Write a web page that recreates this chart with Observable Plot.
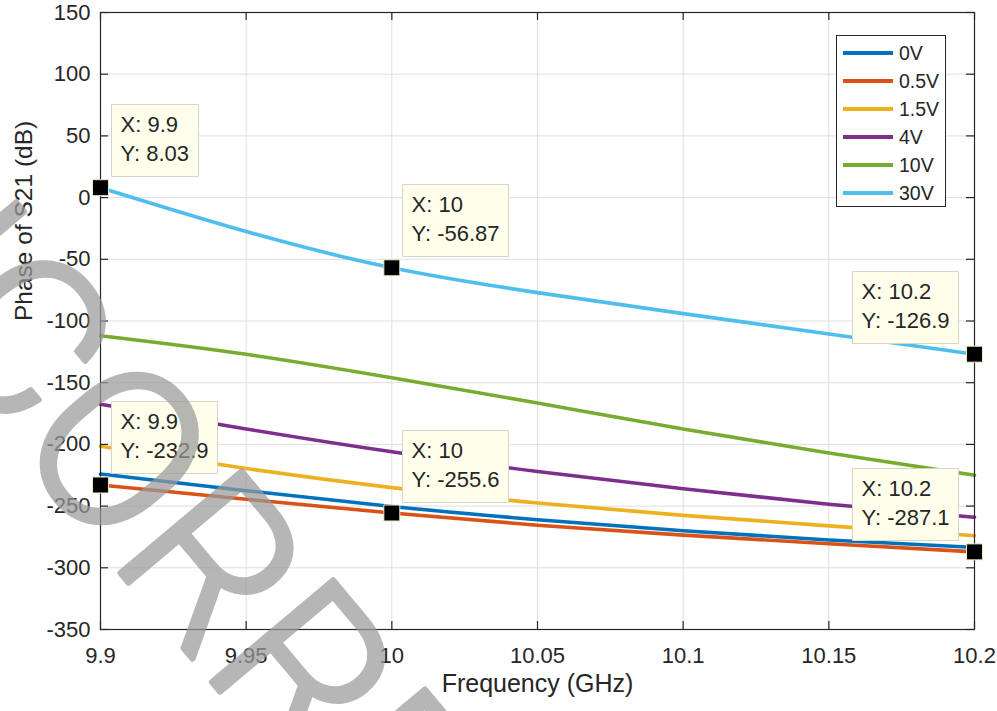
<!DOCTYPE html>
<html>
<head>
<meta charset="utf-8">
<script src="https://cdn.jsdelivr.net/npm/d3@7"></script>
<script src="https://cdn.jsdelivr.net/npm/@observablehq/plot@0.6"></script>
<style>
  body { margin: 0; background: #fff; }
  #wrap { position: relative; width: 997px; height: 711px; overflow: hidden; }
  #legend { position: absolute; left: 836px; top: 35px; width: 110px; height: 172px; box-sizing: border-box;
            border: 1px solid #262626; background: #fff; font: 19.5px "Liberation Sans", Arial, sans-serif; color: #262626; }
  .row { position: absolute; left: 0; height: 28px; display: flex; align-items: center; }
  .sw { display: inline-block; width: 50px; height: 4px; margin-left: 6px; }
  .lb { margin-left: 6px; }
  #wm { position: absolute; left: 0; top: 0; pointer-events: none; }
</style>
</head>
<body>
<div id="wrap"></div>
<script>
// ---- data ----
const freq = [9.9, 9.95, 10, 10.05, 10.1, 10.15, 10.2];
const seriesNames = ["0V", "0.5V", "1.5V", "4V", "10V", "30V"];
const seriesColors = ["#0072BD", "#D95319", "#EDB120", "#7E2F8E", "#77AC30", "#4DBEEE"];
const v0V   = [-224, -237.5, -250.3, -261, -270, -277.5, -283.5];
const v05V  = [-232.9, -244.5, -255.6, -265.5, -273.5, -280.5, -287.1];
const v15V  = [-201.5, -219.5, -235, -247.5, -257.5, -266, -274];
const v4V   = [-167.5, -187.5, -206, -222, -236, -248.5, -259];
const v10V  = [-112, -127, -146, -166.5, -187.5, -207, -225];
const v30V  = [8.03, -27.5, -56.87, -77, -94, -110.5, -126.9];
const xTicks = [9.9, 9.95, 10, 10.05, 10.1, 10.15, 10.2];
const yTicks = [-350, -300, -250, -200, -150, -100, -50, 0, 50, 100, 150];
const tipX = [9.9, 10, 10.2, 9.9, 10, 10.2];
const tipY = [8.03, -56.87, -126.9, -232.9, -255.6, -287.1];
const xLabel = "Frequency (GHz)";
const yLabel = "Phase of S21 (dB)";
const watermark = "UNCORRECTED PROOF";

// ---- build ----
const seriesValues = [v0V, v05V, v15V, v4V, v10V, v30V];
const rows = seriesNames.flatMap((s, k) => freq.map((f, i) => ({f, v: seriesValues[k][i], s})));
const tips = tipX.map((x, i) => ({x, y: tipY[i], label: `X: ${x}\nY: ${tipY[i]}`}));
const tipsLeft = tips.filter(d => d.x < 10.2);
const tipsRight = tips.filter(d => d.x >= 10.2);

const W = 997, H = 711, ML = 100, MR = 23, MT = 12, MB = 82;
const innerW = W - ML - MR, innerH = H - MT - MB;
const axisColor = "#262626";
const font = "'Liberation Sans', Arial, Helvetica, sans-serif";
const tipStyle = {x: "x", y: "y", title: "label", pointerSize: 0, fontSize: 22, lineHeight: 1.32,
  textPadding: 9, fill: "#ffffec", stroke: "#d6d6c4", pathFilter: "none", fontFamily: font};

const chart = Plot.plot({
  width: W, height: H,
  marginLeft: ML, marginRight: MR, marginTop: MT, marginBottom: MB,
  x: {domain: [9.9, 10.2]},
  y: {domain: [-350, 150]},
  color: {domain: seriesNames, range: seriesColors},
  style: {fontFamily: font, color: axisColor, background: "#fff", overflow: "visible"},
  marks: [
    Plot.gridX(xTicks, {stroke: "#dfdfdf", strokeOpacity: 1}),
    Plot.gridY(yTicks, {stroke: "#dfdfdf", strokeOpacity: 1}),
    Plot.line(rows, {x: "f", y: "v", z: "s", stroke: "s", curve: "natural", strokeWidth: 3.6}),
    Plot.frame({stroke: axisColor, strokeWidth: 1.2}),
    Plot.tickX(xTicks, {x: d => d, insetTop: innerH - 8, stroke: axisColor, strokeWidth: 1.2}),
    Plot.tickX(xTicks, {x: d => d, insetBottom: innerH - 8, stroke: axisColor, strokeWidth: 1.2}),
    Plot.tickY(yTicks, {y: d => d, insetRight: innerW - 8, stroke: axisColor, strokeWidth: 1.2}),
    Plot.tickY(yTicks, {y: d => d, insetLeft: innerW - 8, stroke: axisColor, strokeWidth: 1.2}),
    Plot.axisX(xTicks, {tickSize: 0, tickPadding: 18, fontSize: 22, label: null, tickFormat: d => String(d)}),
    Plot.axisY(yTicks, {tickSize: 0, tickPadding: 10, fontSize: 22, label: null, tickFormat: d => String(d)}),
    Plot.text([yLabel], {frameAnchor: "left", rotate: -90, dx: -76, fontSize: 24.5, fill: axisColor}),
    Plot.text([xLabel], {frameAnchor: "bottom", dy: 62, fontSize: 25, fill: axisColor}),
    Plot.dot(tips, {x: "x", y: "y", symbol: "square", r: 9, fill: "#000", stroke: "#eeeac0", strokeWidth: 1}),
    Plot.tip(tipsLeft, {...tipStyle, anchor: "bottom-left", dx: 11, dy: -11}),
    Plot.tip(tipsRight, {...tipStyle, anchor: "bottom-right", dx: -16, dy: -11})
  ]
});

const wrap = document.getElementById("wrap");
wrap.appendChild(chart);

// legend
const legend = document.createElement("div");
legend.id = "legend";
seriesNames.forEach((name, i) => {
  const r = document.createElement("div");
  r.className = "row";
  r.style.top = (3 + i * 28) + "px";
  const sw = document.createElement("span");
  sw.className = "sw";
  sw.style.background = seriesColors[i];
  const lb = document.createElement("span");
  lb.className = "lb";
  lb.textContent = name;
  r.appendChild(sw); r.appendChild(lb);
  legend.appendChild(r);
});
wrap.appendChild(legend);

// watermark overlay (diagonal, partly outside the picture)
const ns = "http://www.w3.org/2000/svg";
const wm = document.createElementNS(ns, "svg");
wm.setAttribute("id", "wm");
wm.setAttribute("width", W); wm.setAttribute("height", H);
const t = document.createElementNS(ns, "text");
t.setAttribute("font-family", "Roboto, 'Open Sans', sans-serif");
t.setAttribute("font-weight", "300");
t.setAttribute("font-size", "224");
t.setAttribute("fill", "#9a9a9a");
t.setAttribute("stroke", "#9a9a9a");
t.setAttribute("stroke-width", "5");
t.setAttribute("stroke-linejoin", "round");
t.setAttribute("opacity", "0.72");
t.textContent = watermark;
wm.appendChild(t);
wrap.appendChild(wm);
let un = 0;
try { un = t.getSubStringLength(0, 2); } catch (e) { un = 300; }
t.setAttribute("transform", `translate(-84,330) rotate(50) translate(${-un},0)`);
</script>
</body>
</html>
